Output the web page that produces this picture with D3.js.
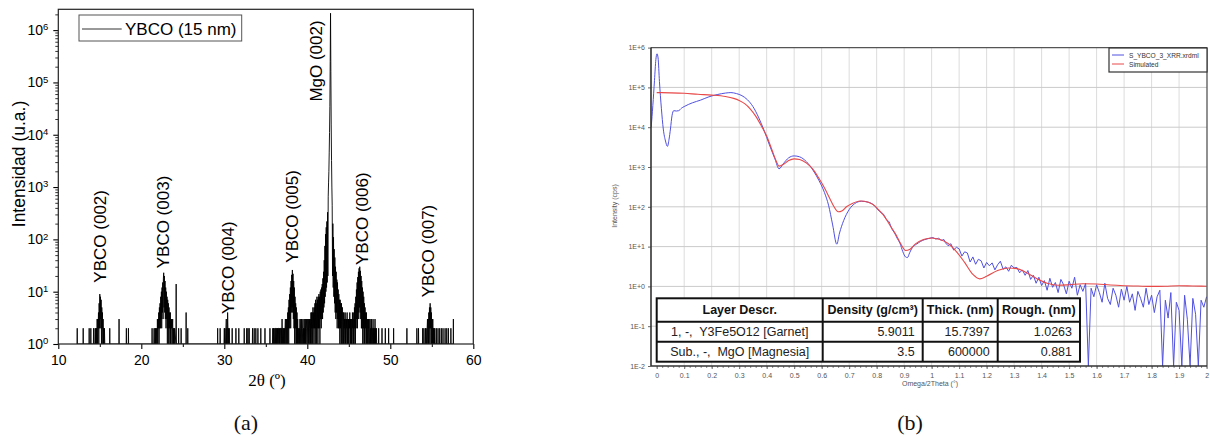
<!DOCTYPE html>
<html>
<head>
<meta charset="utf-8">
<script src="https://cdn.jsdelivr.net/npm/d3@7"></script>
<style>
  body { margin: 0; background: #fff; }
  svg { display: block; }
</style>
</head>
<body>
<svg id="fig" width="1210" height="436"></svg>
<script>
// ---------------- (a) XRD 2θ scan of the YBCO (15 nm) film ----------------
const twoThetaTicks = [10, 20, 30, 40, 50, 60];
const twoThetaMinorTicks = [15, 25, 35, 45, 55];
const countDecades = [1, 10, 100, 1e3, 1e4, 1e5, 1e6];
const scanStep = 0.04;

// dense parts of the scan: counts sampled every scanStep from each start angle
const segmentStarts = [14.40, 21.50, 29.96, 35.80, 37.20, 39.00, 40.60, 44.24, 54.20];
const peak002 = [1,2,1,2,1,2,1,3,1,3,2,4,1,6,2,9,3,8,2,7,1,5,2,4,1,3,1,2,1,2,1,1];
const peak003 = [1,2,1,1,2,1,2,1,2,1, 1,3,1,3,2,4,1,5,2,6, 2,8,3,10,2,12,4,15,3,18,
                 23,5,20,4,16,3,12,2,10,3, 8,1,7,2,6,1,5,2,4,1, 4,1,3,2,3,1,2,3,1,2, 1,2,1,2];
const peak004 = [1,2,1,2,1,1,2,3,1,2,1,4,2,1,2,1,2,1];
const pre005 = [1,2,1,2,1,2,1,1,2,1,2,2,1,2,1,2,1,2,2,1,2,1,2,1,2,2,1,2,1,3,1,2,2,1,2];
const peak005 = [1,2,1,2,3,1,2,3,1,3, 1,4,2,5,1,7,2,9,3,12, 2,16,4,21,5,26,4,22,3,16,
                 2,12,1,8,2,6,1,5,1,4, 1,3,1,2,1];
const band005MgO = [1,2,1,3,1,2,3,1,3,2,1,2,3,1,2,1,3,1,2,1,3,1,2,3,1,1,3,2,1,3,1,2,3,1,3,1,4,1,4,2];
const peakMgO002 = [4,1,5,2,4,1,5,2,6,1, 7,2,6,1,8,2,7,1,8,2, 9,2,8,1,10,3,11,2,12,3,
                    14,3,18,4,24,5,40,6,75,8, 126,10,170,12,220,15,330,20,650,1200,
                    2000,4500,11000,35000,250000,2100000,160000,16000,3200,1000,
                    450,20,200,12,110,8,65,6,45,4, 30,3,24,4,17,2,15,3,11,2, 9,2,7,1,7,2,6,1,6,1, 5];
const peak006 = [5,1,4,1,4,2,3,1,4,1, 3,1,3,2,4,1,3,1,3,1, 3,2,4,1,3,1,3,1,3,1, 4,2,3,1,4,1,5,2,6,1,
                 8,2,11,3,15,2,19,4,24,3, 28,5,30,4,25,3,20,2,16,2, 12,1,10,2,8,1,6,1,5,2,
                 4,1,4,1,3,1,3,2,3,1, 3,1,1,3,1,2,1,3,1,2, 2,1,3,1,2,1,2,1,3,1, 2,1,2,1];
const peak007 = [1,2,1,2,1,1,2,3,1,3,1,4,2,5,1,6,2,5,1,4,1,3,1,3,1,2,1,2,1,2,1];
const scanSegments = [peak002, peak003, peak004, pre005, peak005, band005MgO, peakMgO002, peak006, peak007];

// isolated single-channel counts on the background
const strayCounts = [
  [12.28,2],[13.00,2],[13.72,2],[13.92,2],[14.25,2],[16.20,2],[17.32,3],[18.20,2],[18.45,2],
  [21.30,2],[24.20,14],[24.50,2],[24.80,2],[25.40,4],[25.60,2],
  [29.20,2],[29.50,2],[30.95,2],[31.40,2],[31.75,2],[32.40,2],[32.70,2],[32.85,2],[33.00,2],
  [33.40,2],[33.60,2],[33.80,2],[34.05,2],[34.40,2],[34.90,2],[35.50,2],
  [48.60,2],[49.00,2],[49.40,2],[49.80,2],[50.40,2],[52.00,2],[53.20,2],[53.40,2],[53.90,2],[54.05,2],
  [55.55,2],[55.75,2],[55.95,2],[56.15,2],[56.35,2],[56.60,2],[56.80,2],[57.00,2],[57.30,2],[57.60,3]
];

const peakLabels = ["YBCO (002)", "YBCO (003)", "YBCO (004)", "YBCO (005)", "MgO (002)", "YBCO (006)", "YBCO (007)"];
const peakLabelAngles = [15.13, 22.63, 30.49, 38.22, 41.10, 46.63, 54.60];
const peakLabelLevels = [14.9, 28, 3.75, 35.8, 4.3e4, 32.4, 7.8];
const scanLegend = "YBCO (15 nm)";

// ---------------- (b) X-ray reflectivity, measured and simulated ----------------
const omegaTicks = [0,0.1,0.2,0.3,0.4,0.5,0.6,0.7,0.8,0.9,1,1.1,1.2,1.3,1.4,1.5,1.6,1.7,1.8,1.9,2];
const cpsDecades = [1e-2, 1e-1, 1, 1e1, 1e2, 1e3, 1e4, 1e5, 1e6];

const measuredScan = [
  [-0.020,1.0e4],[-0.014,3.5e4],[-0.008,1.5e5],[-0.003,5.0e5],[0.001,7.0e5],[0.005,5.5e5],[0.010,1.4e5],
  [0.017,3.0e4],[0.024,9.0e3],[0.032,4.5e3],[0.039,3.3e3],[0.045,5.0e3],[0.050,9.0e3],[0.056,2.0e4],
  [0.062,2.6e4],[0.072,2.55e4],[0.080,2.6e4],[0.090,3.0e4],[0.100,3.3e4],[0.130,4.1e4],[0.160,4.8e4],
  [0.190,5.8e4],[0.220,6.6e4],[0.250,7.2e4],[0.270,7.4e4],[0.290,7.0e4],[0.310,6.2e4],[0.330,4.9e4],
  [0.350,3.3e4],[0.370,1.8e4],[0.390,8.5e3],[0.410,3.6e3],[0.430,1.6e3],[0.445,9.0e2],[0.460,1.2e3],
  [0.480,1.7e3],[0.500,1.9e3],[0.520,1.8e3],[0.545,1.35e3],[0.570,8.0e2],[0.590,4.6e2],[0.610,2.3e2],
  [0.625,1.1e2],[0.640,3.5e1],[0.655,1.15e1],[0.665,2.2e1],[0.680,4.5e1],[0.700,8.5e1],[0.720,1.2e2],
  [0.745,1.38e2],[0.770,1.3e2],[0.790,1.1e2],[0.805,8.4e1],[0.815,7.2e1],[0.825,6.5e1],[0.835,4.8e1],
  [0.845,4.2e1],[0.855,2.8e1],[0.865,2.2e1],[0.875,1.6e1],[0.885,1.2e1],[0.895,7.5],[0.905,5.5],
  [0.912,5.3],[0.920,7.0],[0.930,9.5],[0.945,11.5],[0.960,13.5],[0.975,15.0],[0.990,16.0],[1.005,16.8],
  [1.015,15.5],[1.025,16.2],[1.035,14.5],[1.045,15.0],
  [1.05,12.5],[1.06,10.5],[1.07,11.8],[1.08,8.2],[1.09,9.6],[1.10,8.8],[1.11,5.8],[1.12,7.4],[1.13,6.9],[1.14,4.1],
  [1.15,5.5],[1.16,3.6],[1.17,4.8],[1.18,4.4],[1.19,2.9],[1.20,4.0],[1.21,3.3],[1.22,3.9],[1.23,2.6],[1.24,3.5],
  [1.25,4.3],[1.26,2.7],[1.27,3.1],[1.28,2.4],[1.29,3.4],[1.30,2.9],[1.31,3.0],[1.32,2.2],[1.33,2.6],[1.34,1.9],
  [1.35,2.5],[1.36,1.5],[1.37,1.9],[1.38,1.2],[1.39,1.7],[1.40,1.05],[1.41,1.4],[1.42,0.8],[1.43,1.6],[1.44,0.95],
  [1.45,1.25],[1.46,0.7],[1.47,1.5],[1.48,1.1],[1.49,0.65],[1.50,1.35],[1.51,0.9],[1.52,1.7],[1.53,0.6],[1.54,1.1],
  [1.55,0.75],[1.56,1.2],[1.57,0],[1.58,0.9],[1.59,0.55],[1.60,1.1],[1.61,0.7],[1.62,0.4],[1.63,1.2],[1.64,0.5],
  [1.65,0.35],[1.66,0.9],[1.67,0.6],[1.68,0.3],[1.69,0.85],[1.70,0.45],[1.71,1.0],[1.72,0.4],[1.73,0.65],[1.74,0.25],
  [1.75,0.75],[1.76,0.5],[1.77,0.3],[1.78,0.9],[1.79,0.35],[1.80,0.6],[1.81,0.22],[1.82,0.55],[1.83,0.8],[1.84,0],
  [1.85,0.45],[1.86,0.16],[1.87,0.7],[1.88,0],[1.89,0.4],[1.90,0.25],[1.91,0],[1.92,0.6],[1.93,0.15],[1.94,0],
  [1.95,0.5],[1.96,0.2],[1.97,0],[1.98,0.45],[1.99,0.3],[2.00,0.55]
];
const measuredNoisyFrom = 1.045;

const simulatedScan = [
  [0.00,7.4e4],[0.05,7.3e4],[0.10,7.1e4],[0.15,6.7e4],[0.20,6.4e4],[0.25,5.9e4],[0.28,5.3e4],[0.30,4.7e4],
  [0.32,3.9e4],[0.34,2.9e4],[0.36,1.9e4],[0.38,1.1e4],[0.40,6.0e3],[0.42,2.6e3],[0.435,1.4e3],[0.445,1.05e3],
  [0.46,1.15e3],[0.48,1.45e3],[0.50,1.6e3],[0.52,1.55e3],[0.545,1.25e3],[0.57,8.5e2],[0.59,5.2e2],[0.61,3.0e2],
  [0.63,1.6e2],[0.645,1.0e2],[0.66,7.5e1],[0.675,8.0e1],[0.69,1.0e2],[0.71,1.2e2],[0.74,1.4e2],[0.77,1.3e2],
  [0.79,1.1e2],[0.81,8.0e1],[0.83,5.5e1],[0.85,3.3e1],[0.87,2.0e1],[0.89,1.1e1],[0.905,8.0],[0.92,8.5],
  [0.94,11.5],[0.97,15.0],[1.00,16.5],[1.03,15.0],[1.06,12.0],[1.09,7.5],[1.12,4.0],[1.15,2.0],[1.175,1.55],
  [1.20,1.8],[1.24,2.5],[1.28,2.9],[1.31,2.8],[1.34,2.3],[1.38,1.6],[1.42,1.2],[1.46,1.07],[1.50,1.1],
  [1.55,1.17],[1.60,1.15],[1.65,1.08],[1.70,1.04],[1.75,1.02],[1.80,1.0],[1.85,1.01],[1.90,1.04],[1.95,1.02],[2.00,1.01]
];

const reflectivityLegend = ["S_YBCO_3_XRR.xrdml", "Simulated"];
const layerHeaders = ["Layer Descr.", "Density (g/cm³)", "Thick. (nm)", "Rough. (nm)"];
const layerNames = ["1, -,  Y3Fe5O12 [Garnet]", "Sub., -,  MgO [Magnesia]"];
const layerDensity = [5.9011, 3.5];
const layerThickness = [15.7397, 600000];
const layerRoughness = [1.0263, 0.881];

const panelCaptions = ["(a)", "(b)"];

// ---------------------------------------------------------------------------
const SANS = "'Liberation Sans', Arial, Helvetica, sans-serif";
const SERIF = "'Liberation Serif', 'Times New Roman', serif";
const svg = d3.select("#fig");
const defs = svg.append("defs");

// ===== panel (a) =====
const A = { left: 58.3, right: 473.3, top: 9.3, bottom: 344 };
const xA = d3.scaleLinear().domain([10, 60]).range([A.left, A.right]);
const yA = d3.scaleLog().domain([1, 2.5e6]).range([A.bottom, A.top]);
const gA = svg.append("g");

defs.append("clipPath").attr("id", "clipA").append("rect")
  .attr("x", A.left).attr("y", A.top)
  .attr("width", A.right - A.left).attr("height", A.bottom - A.top);

// assemble the scan: dense segments plus isolated counts sitting on the background
const scanPoints = [];
scanSegments.forEach((counts, k) => {
  counts.forEach((c, i) => scanPoints.push([segmentStarts[k] + i * scanStep, c]));
});
strayCounts.forEach(([a, c]) => {
  scanPoints.push([a - 0.02, 1], [a, c], [a + 0.02, 1]);
});
scanPoints.sort((p, q) => p[0] - q[0]);

gA.append("path")
  .datum(scanPoints)
  .attr("clip-path", "url(#clipA)")
  .attr("fill", "none")
  .attr("stroke", "#000")
  .attr("stroke-width", 0.9)
  .attr("d", d3.line().x(d => xA(d[0])).y(d => yA(Math.max(d[1], 1))));

// axes
const axA_x = gA.append("g").attr("transform", `translate(0,${A.bottom})`)
  .call(d3.axisBottom(xA).tickValues(twoThetaTicks).tickSize(5).tickPadding(6).tickSizeOuter(0));
axA_x.select(".domain").remove();
axA_x.selectAll("text").attr("font-family", SANS).attr("font-size", 14).attr("fill", "#000");
axA_x.selectAll("line").attr("stroke", "#000").attr("stroke-width", 1.1);

const axA_xm = gA.append("g").attr("transform", `translate(0,${A.bottom})`)
  .call(d3.axisBottom(xA).tickValues(twoThetaMinorTicks).tickSize(3).tickFormat("").tickSizeOuter(0));
axA_xm.select(".domain").remove();
axA_xm.selectAll("line").attr("stroke", "#000").attr("stroke-width", 1);

const axA_y = gA.append("g").attr("transform", `translate(${A.left},0)`)
  .call(d3.axisLeft(yA).tickValues(countDecades).tickSize(5).tickPadding(5).tickSizeOuter(0));
axA_y.select(".domain").remove();
axA_y.selectAll("line").attr("stroke", "#000").attr("stroke-width", 1.1);
axA_y.selectAll("text").each(function (d) {
  const t = d3.select(this).text("").attr("font-family", SANS).attr("font-size", 14).attr("fill", "#000");
  t.append("tspan").text("10");
  t.append("tspan").attr("dy", "-0.5em").attr("font-size", 9.5).text(Math.round(Math.log10(d)));
});

const minorCounts = yA.ticks().filter(v => !countDecades.includes(v));
const axA_ym = gA.append("g").attr("transform", `translate(${A.left},0)`)
  .call(d3.axisLeft(yA).tickValues(minorCounts).tickSize(3).tickFormat("").tickSizeOuter(0));
axA_ym.select(".domain").remove();
axA_ym.selectAll("line").attr("stroke", "#000").attr("stroke-width", 0.8);

// frame
gA.append("rect")
  .attr("x", A.left).attr("y", A.top)
  .attr("width", A.right - A.left).attr("height", A.bottom - A.top)
  .attr("fill", "none").attr("stroke", "#222").attr("stroke-width", 1.2);

// axis titles
gA.append("text")
  .attr("transform", `translate(19,164) rotate(-90)`)
  .attr("text-anchor", "middle").attr("dominant-baseline", "central")
  .attr("font-family", SANS).attr("font-size", 17.5).attr("fill", "#000")
  .text("Intensidad (u.a.)");
gA.append("text")
  .attr("x", 267).attr("y", 386)
  .attr("text-anchor", "middle")
  .attr("font-family", SERIF).attr("font-size", 17).attr("fill", "#000")
  .text("2θ (º)");

// peak labels
gA.selectAll("text.peak").data(peakLabels).join("text")
  .attr("class", "peak")
  .attr("transform", (d, i) => `translate(${xA(peakLabelAngles[i])},${yA(peakLabelLevels[i])}) rotate(-90)`)
  .attr("text-anchor", "start").attr("dominant-baseline", "central")
  .attr("font-family", SANS).attr("font-size", 17).attr("fill", "#000")
  .text(d => d);

// legend
const legA = gA.append("g");
legA.append("rect").attr("x", 79).attr("y", 15).attr("width", 162.7).attr("height", 26)
  .attr("fill", "#fff").attr("stroke", "#555").attr("stroke-width", 1);
legA.append("line").attr("x1", 82).attr("x2", 121.7).attr("y1", 29).attr("y2", 29)
  .attr("stroke", "#333").attr("stroke-width", 1);
legA.append("text").attr("x", 125).attr("y", 34.8)
  .attr("font-family", SANS).attr("font-size", 17).attr("fill", "#000")
  .text(scanLegend);

// ===== panel (b) =====
const B = { left: 651, right: 1207, top: 47.6, bottom: 366 };
const xB = d3.scaleLinear().domain([-0.0207, 2.0015]).range([B.left, B.right]);
const yB = d3.scaleLog().domain([1e-2, 1e6]).range([B.bottom, B.top]);
const gB = svg.append("g");

defs.append("clipPath").attr("id", "clipB").append("rect")
  .attr("x", B.left).attr("y", B.top)
  .attr("width", B.right - B.left).attr("height", B.bottom - B.top);

// grid
gB.append("g").selectAll("line").data(omegaTicks.filter(v => v > 0 && v < 2)).join("line")
  .attr("x1", d => xB(d)).attr("x2", d => xB(d))
  .attr("y1", B.top).attr("y2", B.bottom)
  .attr("stroke", "#dcdcdc").attr("stroke-width", 1);
gB.append("g").selectAll("line").data(cpsDecades.filter(v => v > 1e-2 && v < 1e6)).join("line")
  .attr("x1", B.left).attr("x2", B.right)
  .attr("y1", d => yB(d)).attr("y2", d => yB(d))
  .attr("stroke", "#cacaca").attr("stroke-width", 1);

// curves: smooth section of the measurement, its noisy tail, and the simulation
const xOf = d => xB(d[0]);
const yOf = d => yB(Math.max(d[1], 1e-2));
const smoothLine = d3.line().x(xOf).y(yOf).curve(d3.curveMonotoneX);
const rawLine = d3.line().x(xOf).y(yOf);
const curvesB = gB.append("g").attr("clip-path", "url(#clipB)");
curvesB.append("path").datum(measuredScan.filter(d => d[0] <= measuredNoisyFrom))
  .attr("fill", "none").attr("stroke", "#5050e0").attr("stroke-width", 1)
  .attr("d", smoothLine);
curvesB.append("path").datum(measuredScan.filter(d => d[0] >= measuredNoisyFrom))
  .attr("fill", "none").attr("stroke", "#5050e0").attr("stroke-width", 1)
  .attr("stroke-linejoin", "round")
  .attr("d", rawLine);
curvesB.append("path").datum(simulatedScan)
  .attr("fill", "none").attr("stroke", "#e84848").attr("stroke-width", 1.1)
  .attr("d", smoothLine);

// axes
const fmtE = v => { const e = Math.round(Math.log10(v)); return "1E" + (e < 0 ? "-" : "+") + Math.abs(e); };
const axB_y = gB.append("g").attr("transform", `translate(${B.left},0)`)
  .call(d3.axisLeft(yB).tickValues(cpsDecades).tickFormat(fmtE).tickSize(3).tickPadding(3).tickSizeOuter(0));
axB_y.select(".domain").remove();
axB_y.selectAll("line").attr("stroke", "#666");
axB_y.selectAll("text").attr("font-family", SANS).attr("font-size", 7).attr("fill", "#555");

const fmtOmega = v => String(v);
const axB_x = gB.append("g").attr("transform", `translate(0,${B.bottom})`)
  .call(d3.axisBottom(xB).tickValues(omegaTicks).tickFormat(fmtOmega).tickSize(3).tickPadding(4).tickSizeOuter(0));
axB_x.select(".domain").remove();
axB_x.selectAll("line").attr("stroke", "#666");
axB_x.selectAll("text").attr("font-family", SANS).attr("font-size", 7).attr("fill", "#555");

const axB_xm = gB.append("g").attr("transform", `translate(0,${B.bottom})`)
  .call(d3.axisBottom(xB).tickValues(xB.ticks(80).filter(v => v >= 0)).tickFormat("").tickSize(2).tickSizeOuter(0));
axB_xm.select(".domain").remove();
axB_xm.selectAll("line").attr("stroke", "#888");

gB.append("text")
  .attr("transform", `translate(614,206) rotate(-90)`)
  .attr("text-anchor", "middle").attr("dominant-baseline", "central")
  .attr("font-family", SANS).attr("font-size", 7).attr("fill", "#555")
  .text("Intensity (cps)");
gB.append("text")
  .attr("x", 930).attr("y", 386)
  .attr("text-anchor", "middle")
  .attr("font-family", SANS).attr("font-size", 7).attr("fill", "#555")
  .text("Omega/2Theta (°)");

// frame: dark left/bottom axes, lighter top/right border
gB.append("line").attr("x1", B.left).attr("x2", B.right).attr("y1", B.top).attr("y2", B.top)
  .attr("stroke", "#555").attr("stroke-width", 1.3);
gB.append("line").attr("x1", B.right).attr("x2", B.right).attr("y1", B.top).attr("y2", B.bottom)
  .attr("stroke", "#555").attr("stroke-width", 1.3);
gB.append("line").attr("x1", B.left).attr("x2", B.left).attr("y1", B.top).attr("y2", B.bottom)
  .attr("stroke", "#333").attr("stroke-width", 1.6);
gB.append("line").attr("x1", B.left).attr("x2", B.right).attr("y1", B.bottom).attr("y2", B.bottom)
  .attr("stroke", "#333").attr("stroke-width", 1.6);

// legend
const legB = gB.append("g");
legB.append("rect").attr("x", 1109).attr("y", 48).attr("width", 98).attr("height", 24)
  .attr("fill", "#fff").attr("stroke", "#333").attr("stroke-width", 1.2);
const legColors = ["#5050e0", "#e84848"];
reflectivityLegend.forEach((name, i) => {
  const y = 55 + i * 9;
  legB.append("line").attr("x1", 1112).attr("x2", 1124).attr("y1", y).attr("y2", y)
    .attr("stroke", legColors[i]).attr("stroke-width", 1);
  legB.append("text").attr("x", 1129).attr("y", y).attr("dominant-baseline", "central")
    .attr("font-family", SANS).attr("font-size", 6.6).attr("fill", "#333").text(name);
});

// fitted layer table
const colEdges = [656.7, 822.7, 922.7, 997.7, 1080];
const rowEdges = [298.3, 321.7, 341.7, 361.7];
const tbl = gB.append("g");
tbl.append("rect").attr("x", colEdges[0]).attr("y", rowEdges[0])
  .attr("width", colEdges[4] - colEdges[0]).attr("height", rowEdges[3] - rowEdges[0])
  .attr("fill", "#fff");
layerHeaders.forEach((h, c) => {
  tbl.append("text")
    .attr("x", (colEdges[c] + colEdges[c + 1]) / 2).attr("y", (rowEdges[0] + rowEdges[1]) / 2)
    .attr("text-anchor", "middle").attr("dominant-baseline", "central")
    .attr("font-family", SANS).attr("font-size", 12.5).attr("font-weight", "bold").attr("fill", "#111")
    .text(h);
});
layerNames.forEach((name, r) => {
  const yc = (rowEdges[r + 1] + rowEdges[r + 2]) / 2;
  tbl.append("text")
    .attr("x", (colEdges[0] + colEdges[1]) / 2).attr("y", yc)
    .attr("text-anchor", "middle").attr("dominant-baseline", "central")
    .attr("font-family", SANS).attr("font-size", 12.5).attr("fill", "#222")
    .style("white-space", "pre")
    .text(name);
  [layerDensity[r], layerThickness[r], layerRoughness[r]].forEach((v, c) => {
    tbl.append("text")
      .attr("x", colEdges[c + 2] - 8).attr("y", yc)
      .attr("text-anchor", "end").attr("dominant-baseline", "central")
      .attr("font-family", SANS).attr("font-size", 12.5).attr("fill", "#222")
      .text(String(v));
  });
});
colEdges.slice(1, 4).forEach(x => {
  tbl.append("line").attr("x1", x).attr("x2", x).attr("y1", rowEdges[0]).attr("y2", rowEdges[3])
    .attr("stroke", "#111").attr("stroke-width", 2);
});
rowEdges.slice(1, 3).forEach(y => {
  tbl.append("line").attr("x1", colEdges[0]).attr("x2", colEdges[4]).attr("y1", y).attr("y2", y)
    .attr("stroke", "#111").attr("stroke-width", 2);
});
tbl.append("rect").attr("x", colEdges[0]).attr("y", rowEdges[0])
  .attr("width", colEdges[4] - colEdges[0]).attr("height", rowEdges[3] - rowEdges[0])
  .attr("fill", "none").attr("stroke", "#111").attr("stroke-width", 2);

// ===== captions =====
svg.selectAll("text.caption").data(panelCaptions).join("text")
  .attr("class", "caption")
  .attr("x", (d, i) => [246, 910][i]).attr("y", 430)
  .attr("text-anchor", "middle")
  .attr("font-family", SERIF).attr("font-size", 22).attr("fill", "#111")
  .text(d => d);
</script>
</body>
</html>
